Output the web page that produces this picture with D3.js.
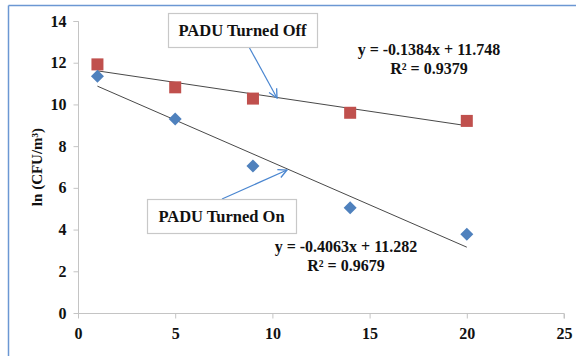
<!DOCTYPE html>
<html><head><meta charset="utf-8">
<script src="https://cdn.jsdelivr.net/npm/d3@7"></script>
<style>body{margin:0;background:#fff}svg{display:block}
svg text{font-family:"Liberation Serif","Times New Roman","DejaVu Serif",serif !important;font-weight:bold;fill:#111}</style>
</head><body><svg id="c" width="576" height="356"></svg>
<script>
const xTicks = [0,5,10,15,20,25];
const yTicks = [0,2,4,6,8,10,12,14];
const offX = [1,5,9,14,20];
const offY = [11.92,10.82,10.28,9.6,9.21];
const onX = [1,5,9,14,20];
const onY = [11.35,9.3,7.05,5.05,3.78];
const offFit = {slope:-0.1384, intercept:11.748, label1:"y = -0.1384x + 11.748", label2:"R² = 0.9379"};
const onFit = {slope:-0.4063, intercept:11.282, label1:"y = -0.4063x + 11.282", label2:"R² = 0.9679"};
const yLabel = "ln (CFU/m³)";

const svg = d3.select("#c");
const x = d3.scaleLinear().domain([0,25]).range([78,564]);
const y = d3.scaleLinear().domain([0,14]).range([313,21]);

// outer border
svg.append("line").attr("x1",8.5).attr("x2",576).attr("y1",5.5).attr("y2",5.5).attr("stroke","#6b97d3").attr("stroke-width",1.5);
svg.append("line").attr("x1",8.5).attr("x2",8.5).attr("y1",5.5).attr("y2",356).attr("stroke","#6b97d3").attr("stroke-width",1.5);

const axisColor = "#c4c4c4";
const gy = svg.append("g").attr("transform","translate(78.5,0)")
  .call(d3.axisLeft(y).tickValues(yTicks).tickSize(5).tickPadding(7).tickFormat(d3.format("d")));
const gx = svg.append("g").attr("transform","translate(0,313.5)")
  .call(d3.axisBottom(x).tickValues(xTicks).tickSize(5).tickPadding(9).tickFormat(d3.format("d")));
[gx,gy].forEach(g=>{
  g.select(".domain").attr("stroke",axisColor);
  g.selectAll(".tick line").attr("stroke",axisColor);
  g.selectAll("text").style("font-size","16px");
});
gy.select(".domain").attr("d","M-5,21.5H0V313.5");
gx.select(".domain").attr("d","M78,0V0H564V5");

svg.append("text").attr("transform","translate(42,167) rotate(-90)")
  .attr("text-anchor","middle").style("font-size","15px")
  .text(yLabel);

// trend lines
[offFit,onFit].forEach(f=>{
  svg.append("line").attr("x1",x(1)).attr("y1",y(f.slope*1+f.intercept))
    .attr("x2",x(20)).attr("y2",y(f.slope*20+f.intercept))
    .attr("stroke","#333").attr("stroke-width",0.9);
});

// markers
svg.selectAll("rect.off").data(offX.map((d,i)=>[d,offY[i]])).join("rect")
  .attr("x",d=>x(d[0])-6).attr("y",d=>y(d[1])-6).attr("width",12).attr("height",12)
  .attr("fill","#c0504d");
svg.selectAll("path.on").data(onX.map((d,i)=>[d,onY[i]])).join("path")
  .attr("d",d=>{const cx=x(d[0]),cy=y(d[1]),r=6.5;return `M${cx},${cy-r}L${cx+r},${cy}L${cx},${cy+r}L${cx-r},${cy}Z`;})
  .attr("fill","#4f81bd");

// callouts
const arrowColor = "#4a86d0";
svg.append("defs").append("marker").attr("id","ah").attr("viewBox","0 0 10 10").attr("refX",9).attr("refY",5)
  .attr("markerWidth",9).attr("markerHeight",9).attr("orient","auto-start-reverse")
  .append("path").attr("d","M1,1L9,5L1,9").attr("fill","none").attr("stroke",arrowColor).attr("stroke-width",1.2);

function callout(bx,by,bw,bh,text,ax1,ay1,ax2,ay2){
  svg.append("line").attr("x1",ax1).attr("y1",ay1).attr("x2",ax2).attr("y2",ay2)
    .attr("stroke",arrowColor).attr("stroke-width",1.2).attr("marker-end","url(#ah)");
  svg.append("rect").attr("x",bx+0.5).attr("y",by+0.5).attr("width",bw).attr("height",bh)
    .attr("fill","#fff").attr("stroke","#c8c8c8").attr("stroke-width",1.2);
  svg.append("text").attr("x",bx+bw/2).attr("y",by+bh/2+5.5).attr("text-anchor","middle")
    .style("font-size","16.5px").text(text);
}
callout(168,13,149,34,"PADU Turned Off",249,47,277,98);
callout(147,199,149,34,"PADU Turned On",222,199,287,170);

function eq(cx,by,f){
  const t = svg.append("g").attr("text-anchor","middle");
  t.append("text").attr("x",cx).attr("y",by).style("font-size","16px").text(f.label1);
  t.append("text").attr("x",cx).attr("y",by+19).style("font-size","16px").text(f.label2);
}
eq(429,55,offFit);
eq(346,252,onFit);
</script></body></html>
